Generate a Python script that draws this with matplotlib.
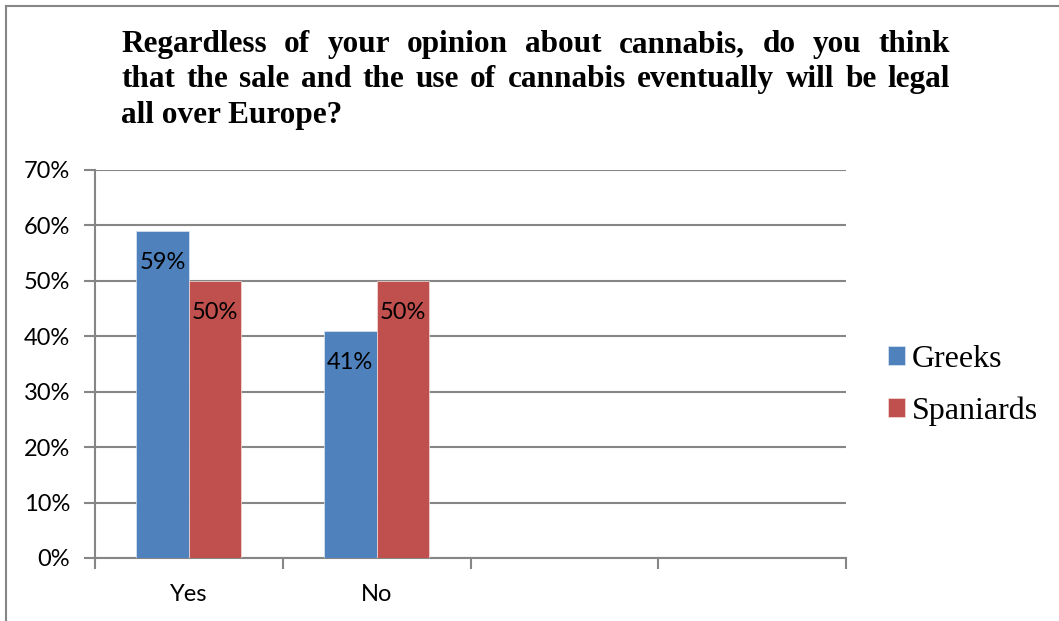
import matplotlib.pyplot as plt
from matplotlib.lines import Line2D

# data
categories = ['Yes', 'No', '', '']
greeks = [0.59, 0.41]
spaniards = [0.50, 0.50]
series_names = ['Greeks', 'Spaniards']
colors = ['#4F81BD', '#C0504D']
title_lines = [
    'Regardless of your opinion about cannabis, do you think',
    'that the sale and the use of cannabis eventually will be legal',
    'all over Europe?',
]

W, H = 1059, 621
fig = plt.figure(figsize=(W / 100, H / 100), dpi=100)
ax = fig.add_axes([95 / W, 1 - 558 / H, (846 - 95) / W, (558 - 170) / H])

sans = ['Lato', 'DejaVu Sans']
serif = ['Liberation Serif', 'DejaVu Serif']

bw = 0.28
xs = range(len(greeks))
b1 = ax.bar([x - bw / 2 for x in xs], greeks, bw, color=colors[0],
            edgecolor='#dde6f2', linewidth=0.5, label=series_names[0], zorder=3)
b2 = ax.bar([x + bw / 2 for x in xs], spaniards, bw, color=colors[1],
            edgecolor='#f2dede', linewidth=0.5, label=series_names[1], zorder=3)

for bars, vals in [(b1, greeks), (b2, spaniards)]:
    for b, v in zip(bars, vals):
        ax.annotate(f'{round(v * 100)}%', (b.get_x() + b.get_width() / 2, v),
                    xytext=(0, -15), textcoords='offset points',
                    ha='center', va='top', fontsize=17, family=sans, zorder=4)

ax.set_xlim(-0.5, len(categories) - 0.5)
ax.set_ylim(0, 0.70)
ax.set_yticks([i / 10 for i in range(8)])
ax.set_yticklabels([f'{i * 10}%' for i in range(8)], family=sans, fontsize=17)
ax.yaxis.grid(True, color='#868686', linewidth=1.5, zorder=0)
ax.set_xticks([i - 0.5 for i in range(len(categories) + 1)])
ax.set_xticklabels([])
ax.set_xticks(range(len(categories)), minor=True)
ax.set_xticklabels(categories, minor=True, family=sans, fontsize=17)
ax.tick_params(axis='x', which='major', length=8, width=1.5, color='#868686')
ax.tick_params(axis='x', which='minor', length=0, pad=19)
ax.tick_params(axis='y', length=8, width=1.5, color='#868686', pad=10)
for s in ['top', 'right']:
    ax.spines[s].set_visible(False)
for s in ['left', 'bottom']:
    ax.spines[s].set_color('#868686')
    ax.spines[s].set_linewidth(1.5)

leg = fig.legend(handles=[b1, b2], loc='upper left', bbox_to_anchor=(888 / W, 1 - 345 / H),
                 frameon=False, prop={'family': serif, 'size': 23},
                 handlelength=0.53, handleheight=0.53, handletextpad=0.22, labelspacing=0.69,
                 borderaxespad=0, borderpad=0)

# justified title
fig.canvas.draw()
r = fig.canvas.get_renderer()
left, right = 121, 950
base = [52, 87, 123]
tsize = 22.5
for i, line in enumerate(title_lines):
    words = line.split()
    if i == len(title_lines) - 1:
        fig.text(left / W, 1 - base[i] / H, line, fontsize=tsize, fontweight='bold',
                 family=serif, va='baseline', ha='left')
        continue
    ts = [fig.text(0, 0, w, fontsize=tsize, fontweight='bold', family=serif,
                   va='baseline', ha='left') for w in words]
    widths = [t.get_window_extent(r).width for t in ts]
    gap = (right - left - sum(widths)) / (len(words) - 1)
    x = left
    for t, w in zip(ts, widths):
        t.set_position((x / W, 1 - base[i] / H))
        x += w + gap

# chart frame
fig.add_artist(Line2D([6 / W, 6 / W], [0, 1 - 6 / H], color='#868686', lw=1.5))
fig.add_artist(Line2D([6 / W, 1], [1 - 6 / H, 1 - 6 / H], color='#868686', lw=1.5))

fig.savefig('out.png', dpi=100)
